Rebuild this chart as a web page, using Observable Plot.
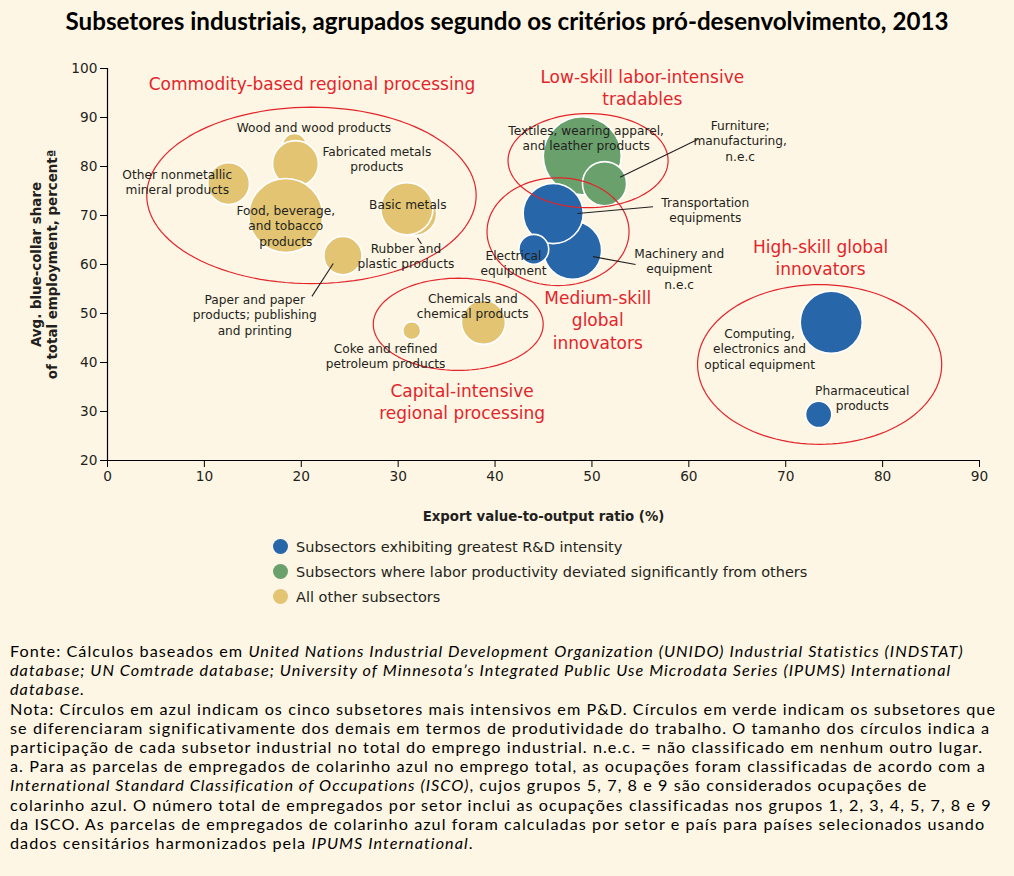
<!DOCTYPE html>
<html>
<head>
<meta charset="utf-8">
<script src="https://cdn.jsdelivr.net/npm/d3@7"></script>
<script src="https://cdn.jsdelivr.net/npm/@observablehq/plot@0.6"></script>
<style>
  html, body { margin: 0; padding: 0; background: #fef6e4; }
  body { width: 1014px; height: 876px; position: relative; overflow: hidden; }
  #title { position: absolute; top: 6px; left: 0; width: 1014px; text-align: center;
           font-family: Lato, "Open Sans", sans-serif; font-weight: bold; color: #000; white-space: nowrap; }
  #title span { display: inline-block; }
  #chart { position: absolute; top: 40px; left: 0; }
  #legend { position: absolute; top: 534px; left: 273px; font-family: "DejaVu Sans", Verdana, sans-serif;
            font-size: 14.5px; color: #231f20; }
  .li { height: 25px; display: flex; align-items: center; }
  .sw { width: 15px; height: 15px; border-radius: 50%; margin-right: 8px; }
  #foot { position: absolute; top: 641px; left: 10px; font-family: Lato, "Open Sans", sans-serif; color: #000; font-size: 16.2px; }
  #foot div { white-space: nowrap; line-height: 19.2px; height: 19.2px; }
  #foot span.m { display: inline-block; line-height: 19.2px; }
</style>
</head>
<body>
<div id="title"><span>Subsetores industriais, agrupados segundo os critérios pró-desenvolvimento, 2013</span></div>
<div id="chart"></div>
<div id="legend"></div>
<div id="foot"></div>
<script>
// ---- data ----
const names = ["Wood and wood products", "Fabricated metals products", "Other nonmetallic mineral products",
  "Food, beverage, and tobacco products", "Rubber and plastic products", "Basic metals",
  "Paper and paper products; publishing and printing", "Coke and refined petroleum products",
  "Chemicals and chemical products", "Textiles, wearing apparel, and leather products",
  "Furniture; manufacturing, n.e.c", "Machinery and equipment n.e.c", "Transportation equipments",
  "Electrical equipment", "Computing, electronics and optical equipment", "Pharmaceutical products"];
const exportRatio = [19.3, 19.4, 12.5, 18.4, 31.7, 30.9, 24.3, 31.4, 38.8, 49.0, 51.3, 48.0, 46.0, 44.0, 74.7, 73.4];
const blueCollar  = [84.3, 80.6, 76.5, 70.0, 70.4, 71.4, 61.8, 46.5, 48.2, 82.2, 76.5, 62.9, 70.4, 63.1, 48.2, 29.4];
const empShare    = [1.4, 5.2, 4.3, 13.5, 4.8, 6.7, 3.6, 0.8, 4.8, 15.0, 4.8, 8.3, 8.9, 2.2, 9.5, 1.7];
const kind = ["other","other","other","other","other","other","other","other","other",
  "labor","labor","rd","rd","rd","rd","rd"];

const kindLabels = ["Subsectors exhibiting greatest R&D intensity",
  "Subsectors where labor productivity deviated significantly from others", "All other subsectors"];
const kindKeys = ["rd", "labor", "other"];
const kindColors = ["#2766a8", "#6aa06c", "#e2c473"];

// bubble labels (text, x, y)
const labelTexts = ["Wood and wood products", "Fabricated metals\nproducts", "Other nonmetallic\nmineral products",
  "Food, beverage,\nand tobacco\nproducts", "Basic metals", "Rubber and\nplastic products",
  "Paper and paper\nproducts; publishing\nand printing", "Coke and refined\npetroleum products",
  "Chemicals and\nchemical products", "Textiles, wearing apparel,\nand leather products",
  "Furniture;\nmanufacturing,\nn.e.c", "Transportation\nequipments", "Electrical\nequipment",
  "Machinery and\nequipment\nn.e.c", "Computing,\nelectronics and\noptical equipment", "Pharmaceutical\nproducts"];
const labelX = [21.3, 27.8, 7.2, 18.4, 31.0, 30.8, 15.2, 28.7, 37.7, 49.4, 65.3, 61.7, 41.9, 59.0, 67.3, 77.9];
const labelY = [88.0, 81.6, 76.9, 68.0, 72.4, 61.8, 49.8, 41.4, 51.6, 85.9, 85.3, 71.2, 60.4, 59.2, 42.9, 32.9];

// leader lines
const leaderX1 = [52.9, 48.5, 50.1, 21.1, 32.0];
const leaderY1 = [77.8, 70.4, 61.6, 53.5, 65.4];
const leaderX2 = [60.9, 56.3, 54.5, 23.3, 32.4];
const leaderY2 = [85.5, 71.8, 60.0, 60.2, 64.2];

// groups
const groupNames = ["Commodity-based regional processing", "Low-skill labor-intensive\ntradables",
  "Medium-skill\nglobal\ninnovators", "Capital-intensive\nregional processing", "High-skill global\ninnovators"];
const groupLabelX = [21.1, 55.2, 50.6, 36.6, 73.6];
const groupLabelY = [97.1, 96.3, 48.8, 32.2, 61.6];
const groupCx = [21.05, 49.6, 46.5, 36.2, 73.5];
const groupCy = [74.1, 81.2, 66.7, 47.8, 39.6];
const groupRx = [17.0, 8.26, 7.33, 8.77, 12.6];
const groupRy = [18.0, 9.6, 11.0, 9.4, 16.3];

const xTicks = [0, 10, 20, 30, 40, 50, 60, 70, 80, 90];
const yTicks = [20, 30, 40, 50, 60, 70, 80, 90, 100];

// ---- build tables ----
const bubbles = names.map((n, i) => ({name: n, x: exportRatio[i], y: blueCollar[i], share: empShare[i], kind: kind[i]}));
const labels = labelTexts.map((t, i) => ({t, x: labelX[i], y: labelY[i]}));
const leaders = leaderX1.map((d, i) => ({x1: d, y1: leaderY1[i], x2: leaderX2[i], y2: leaderY2[i]}));
const groupLbl = groupNames.map((t, i) => ({t, x: groupLabelX[i], y: groupLabelY[i]}));
const ellipsePts = [];
groupCx.forEach((cx, g) => {
  for (let k = 0; k <= 120; k++) {
    const a = (k / 120) * 2 * Math.PI;
    ellipsePts.push({g, x: cx + groupRx[g] * Math.cos(a), y: groupCy[g] + groupRy[g] * Math.sin(a)});
  }
});

const font = "'DejaVu Sans', Verdana, sans-serif";
const ink = "#231f20";

const chart = Plot.plot({
  width: 1014, height: 490,
  marginLeft: 107, marginRight: 35, marginTop: 28, marginBottom: 70,
  style: {background: "transparent", fontFamily: font, color: ink},
  x: {domain: [0, 90], ticks: xTicks, label: null, tickSize: 7, tickPadding: 4},
  y: {domain: [20, 100], ticks: yTicks, label: null, tickSize: 7, tickPadding: 3},
  r: {domain: [0, 15], range: [0, 39]},
  color: {domain: kindKeys, range: kindColors},
  marks: [
    Plot.axisX({ticks: xTicks, tickSize: 7, tickPadding: 4, fontSize: 13.7, label: null, stroke: "#000", color: ink}),
    Plot.axisY({ticks: yTicks, tickSize: 7, tickPadding: 3, fontSize: 13.7, label: null, stroke: "#000", color: ink}),
    Plot.dot(bubbles, {x: "x", y: "y", r: "share", fill: "kind", stroke: "white", strokeWidth: 1.6, sort: null}),
    Plot.line(ellipsePts, {x: "x", y: "y", z: "g", stroke: "#e3242b", strokeWidth: 1.2, curve: "linear"}),
    Plot.link(leaders, {x1: "x1", y1: "y1", x2: "x2", y2: "y2", stroke: "#231f20", strokeWidth: 1.1}),
    Plot.text(labels, {x: "x", y: "y", text: "t", fontSize: 12.2, lineHeight: 1.27, fill: ink, lineAnchor: "middle"}),
    Plot.text(groupLbl, {x: "x", y: "y", text: "t", fontSize: 17, lineHeight: 1.3, fill: "#e3242b", lineAnchor: "middle"}),
    Plot.ruleY([20], {stroke: "#000", strokeWidth: 1.2}),
    Plot.ruleX([0], {stroke: "#000", strokeWidth: 1.2}),
    Plot.text(["Export value-to-output ratio (%)"], {frameAnchor: "bottom", dy: 56, fontSize: 13.3, fontWeight: "bold", fill: ink, lineAnchor: "middle", textAnchor: "middle"}),
    Plot.text(["Avg. blue-collar share\nof total employment, percentª"], {frameAnchor: "left", dx: -64, rotate: -90, fontSize: 13.4, lineHeight: 1.25, fontWeight: "bold", fill: ink, lineAnchor: "middle", textAnchor: "middle"})
  ]
});
document.getElementById("chart").appendChild(chart);

// legend
const leg = document.getElementById("legend");
kindLabels.forEach((t, i) => {
  const row = document.createElement("div");
  row.className = "li";
  row.innerHTML = `<div class="sw" style="background:${kindColors[i]}"></div><div>${t.replace("&", "&amp;")}</div>`;
  leg.appendChild(row);
});

// footnote
const footLines = [
  "Fonte: Cálculos baseados em <i>United Nations Industrial Development Organization (UNIDO) Industrial Statistics (INDSTAT)</i>",
  "<i>database; UN Comtrade database; University of Minnesota’s Integrated Public Use Microdata Series (IPUMS) International</i>",
  "<i>database.</i>",
  "Nota: Círculos em azul indicam os cinco subsetores mais intensivos em P&amp;D. Círculos em verde indicam os subsetores que",
  "se diferenciaram significativamente dos demais em termos de produtividade do trabalho. O tamanho dos círculos indica a",
  "participação de cada subsetor industrial no total do emprego industrial. n.e.c. = não classificado em nenhum outro lugar.",
  "a. Para as parcelas de empregados de colarinho azul no emprego total, as ocupações foram classificadas de acordo com a",
  "<i>International Standard Classification of Occupations (ISCO)</i>, cujos grupos 5, 7, 8 e 9 são considerados ocupações de",
  "colarinho azul. O número total de empregados por setor inclui as ocupações classificadas nos grupos 1, 2, 3, 4, 5, 7, 8 e 9",
  "da ISCO. As parcelas de empregados de colarinho azul foram calculadas por setor e país para países selecionados usando",
  "dados censitários harmonizados pela <i>IPUMS International</i>."
];
const foot = document.getElementById("foot");
foot.innerHTML = footLines.map(l => `<div><span class="m">${l}</span></div>`).join("");
const refSpan = foot.querySelectorAll("span.m")[3];
const w = refSpan.getBoundingClientRect().width;
const n = refSpan.textContent.length;
foot.style.letterSpacing = Math.max(0, (986 - w) / n).toFixed(3) + "px";

const title = document.querySelector("#title span");
document.getElementById("title").style.fontSize = "20px";
const tw = title.getBoundingClientRect().width;
document.getElementById("title").style.fontSize = (20 * 883 / tw).toFixed(2) + "px";
</script>
</body>
</html>
